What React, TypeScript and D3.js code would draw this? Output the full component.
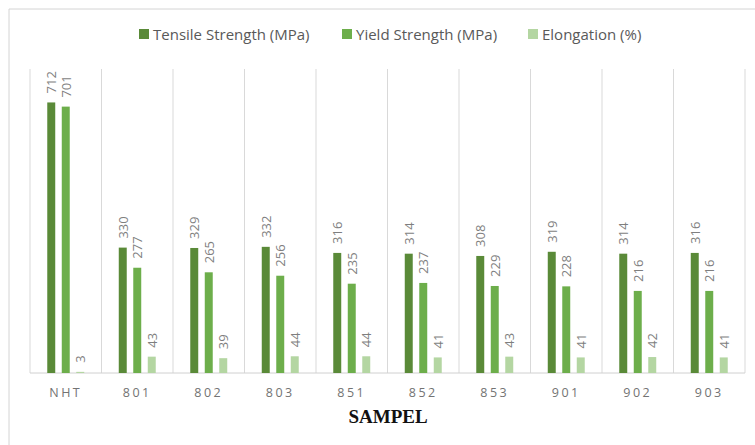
import React from "react";
import * as d3 from "d3";

const categories = ["NHT", "801", "802", "803", "851", "852", "853", "901", "902", "903"];
const seriesNames = ["Tensile Strength (MPa)", "Yield Strength (MPa)", "Elongation (%)"];
const tensile = [712, 330, 329, 332, 316, 314, 308, 319, 314, 316];
const yieldS = [701, 277, 265, 256, 235, 237, 229, 228, 216, 216];
const elongation = [3, 43, 39, 44, 44, 41, 43, 41, 42, 41];
const seriesValues = [tensile, yieldS, elongation];
const colors = ["#5A8A38", "#6DAE4B", "#B4D6A2"];

export default function App() {
  const W = 755, H = 445;
  const left = 30, right = 745, top = 69, bottom = 373;
  const x = d3.scaleBand<string>().domain(categories).range([left, right]).padding(0);
  const inner = d3
    .scaleBand<string>()
    .domain(seriesNames)
    .range([-21.75, 21.75])
    .paddingInner(0.45)
    .paddingOuter(0.225);
  const y = d3.scaleLinear().domain([0, 800]).range([bottom, top]);
  const gridXs = categories.map((c) => x(c)!).concat([right]);

  const legendItems = [
    { name: seriesNames[0], x: 139 },
    { name: seriesNames[1], x: 342 },
    { name: seriesNames[2], x: 528 },
  ];

  return (
    <svg width={W} height={H} style={{ position: "absolute", left: 0, top: 0 }}>
      <rect x={0} y={0} width={W} height={H} fill="#ffffff" />
      {/* frame */}
      <line x1={9} x2={W} y1={9} y2={9} stroke="#d4d4d4" strokeWidth={1} />
      <line x1={9} x2={9} y1={9} y2={H} stroke="#d4d4d4" strokeWidth={1} />
      {/* legend */}
      {legendItems.map((l, i) => (
        <g key={l.name}>
          <rect x={l.x} y={29} width={10} height={10} fill={colors[i]} />
          <text
            x={l.x + 14}
            y={34}
            dominantBaseline="central"
            fontFamily="Open Sans, sans-serif"
            fontSize={15}
            fill="#595959"
          >
            {l.name}
          </text>
        </g>
      ))}
      {/* grid */}
      {gridXs.map((gx, i) => (
        <line key={i} x1={gx} x2={gx} y1={top} y2={bottom} stroke="#d9d9d9" strokeWidth={1} />
      ))}
      <line x1={left} x2={right} y1={bottom} y2={bottom} stroke="#d0d0d0" strokeWidth={1} />
      {/* bars */}
      {categories.map((c, ci) => {
        const cx = x(c)! + x.bandwidth() / 2;
        return (
          <g key={c}>
            {seriesNames.map((s, si) => {
              const v = seriesValues[si][ci];
              const bx = cx + inner(s)!;
              const by = y(v);
              const lx = bx + inner.bandwidth() / 2;
              const ly = by - 9;
              return (
                <g key={s}>
                  <rect x={bx} y={by} width={inner.bandwidth()} height={bottom - by} fill={colors[si]} />
                  <text
                    transform={`translate(${lx},${ly}) rotate(-90)`}
                    textAnchor="start"
                    dominantBaseline="central"
                    fontFamily="Open Sans, sans-serif"
                    fontSize={13}
                    fill="#7f7f7f"
                  >
                    {v}
                  </text>
                </g>
              );
            })}
            <text
              x={cx}
              y={392}
              textAnchor="middle"
              dominantBaseline="central"
              fontFamily="Open Sans, sans-serif"
              fontSize={12.5}
              letterSpacing={2.5}
              fill="#737373"
            >
              {c}
            </text>
          </g>
        );
      })}
      <text
        x={388}
        y={423}
        textAnchor="middle"
        fontFamily="Liberation Serif, Times New Roman, serif"
        fontWeight="bold"
        fontSize={19}
        fill="#111"
      >
        SAMPEL
      </text>
    </svg>
  );
}
